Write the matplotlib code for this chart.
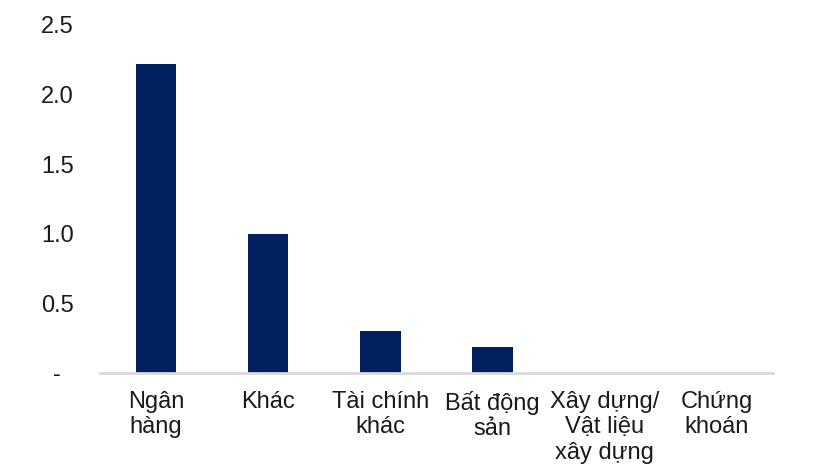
import matplotlib.pyplot as plt
from matplotlib.ticker import FixedLocator, FuncFormatter

categories = ["Ngân\nhàng", "Khác", "Tài chính\nkhác", "Bất động\nsản",
              "Xây dựng/\nVật liệu\nxây dựng", "Chứng\nkhoán"]
values = [2.22, 1.0, 0.30, 0.19, 0.0, 0.0]
y_ticks = [0, 0.5, 1.0, 1.5, 2.0, 2.5]

plt.rcParams['font.family'] = ['Liberation Sans', 'DejaVu Sans']

fig = plt.figure(figsize=(8.3, 4.67), dpi=100)
ax = fig.add_axes([0.1205, 0.2013, 0.8108, 0.7452])

x = range(len(categories))
ax.bar(x, values, width=0.36, color='#002060')

ax.set_xlim(-0.5, len(categories) - 0.5)
ax.set_ylim(0, 2.5)
ax.yaxis.set_major_locator(FixedLocator(y_ticks))
# zero shown as a dash, like the accounting format in the source
ax.yaxis.set_major_formatter(FuncFormatter(lambda v, p: '-  ' if v == 0 else f'{v:.1f}'))

ax.set_xticks(list(x))
ax.set_xticklabels(categories, fontsize=17, linespacing=1.2)
ax.tick_params(axis='x', length=0, pad=13, labelcolor='#1a1a1a')
ax.tick_params(axis='y', length=0, pad=19, labelsize=17, labelcolor='#1a1a1a')

for s in ['top', 'right', 'left']:
    ax.spines[s].set_visible(False)
ax.spines['bottom'].set_color('#d9d9d9')
ax.spines['bottom'].set_linewidth(2)

fig.savefig('out.png', dpi=100)
